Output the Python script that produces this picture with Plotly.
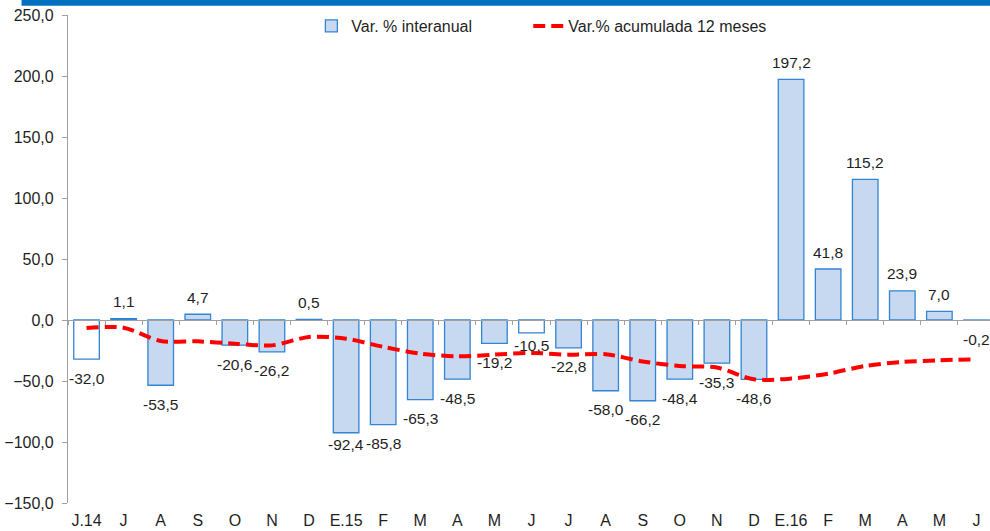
import plotly.graph_objects as go

# ---- data ----
labels = ["J.14", "J", "A", "S", "O", "N", "D",
          "E.15", "F", "M", "A", "M", "J", "J", "A", "S", "O", "N", "D",
          "E.16", "F", "M", "A", "M", "J"]
var_interanual = [-32.0, 1.1, -53.5, 4.7, -20.6, -26.2, 0.5,
                  -92.4, -85.8, -65.3, -48.5, -19.2, -10.5, -22.8, -58.0, -66.2, -48.4, -35.3, -48.6,
                  197.2, 41.8, 115.2, 23.9, 7.0, -0.2]
var_acumulada = [-6.5, -6.3, -17.2, -17.5, -19.4, -20.8, -13.9,
                 -15.3, -22.0, -27.6, -29.8, -28.4, -27.0, -28.4, -28.0, -34.0, -37.7, -39.0, -48.6,
                 -48.0, -44.0, -37.7, -34.4, -33.0, -32.2]
y_ticks = [-150, -100, -50, 0, 50, 100, 150, 200, 250]

# ---- styling ----
FONT = "Liberation Sans, Arial, sans-serif"
TXT = "#1f1f1f"
AXIS = "#A0A0A0"
BAR_FILL = "#C6D9F1"
BAR_LINE = "#3384D2"
hollow = {0, 12}  # bars drawn with white fill in the reference

idx = list(range(len(labels)))
bar_colors = ["#FFFFFF" if i in hollow else BAR_FILL for i in idx]

W, H = 990, 531
ML, MR, MT, MB = 67.5, 0, 15, 28
plot_w = W - ML - MR
plot_h = H - MT - MB
cat_px = 37.1
x_max = -0.5 + plot_w / cat_px

fig = go.Figure()
fig.add_trace(go.Bar(
    x=idx, y=var_interanual, name="Var. % interanual",
    marker=dict(color=bar_colors, line=dict(color=BAR_LINE, width=1.3)),
    width=0.69, showlegend=False, hoverinfo="skip",
))
# legend entry for the bars (uses the regular fill colour)
fig.add_trace(go.Bar(
    x=[None], y=[None], name="Var. % interanual",
    marker=dict(color=BAR_FILL, line=dict(color=BAR_LINE, width=1.3)),
    legend="legend", hoverinfo="skip",
))
fig.add_trace(go.Scatter(
    x=idx, y=var_acumulada, name="Var.% acumulada 12 meses",
    mode="lines", line=dict(color="#FF0000", width=4, dash="12px,6px", shape="spline", smoothing=0.8),
    legend="legend2", hoverinfo="skip",
))
# helper trace to render the zero-line axis with boundary ticks
fig.add_trace(go.Scatter(x=[None], y=[None], xaxis="x2", showlegend=False, hoverinfo="skip"))

label_shift = {7: -12, 12: -13}
for i, v in enumerate(var_interanual):
    txt = f"{v:.1f}".replace(".", ",")
    shift = label_shift.get(i, 17 if v >= 0 else -19)
    fig.add_annotation(x=i, y=v, text=txt, showarrow=False, yshift=shift,
                       font=dict(family=FONT, size=15.5, color=TXT))

# blue band at the very top
fig.add_shape(type="rect", xref="paper", yref="paper",
              x0=(21 - ML) / plot_w, x1=1.01,
              y0=1 + (MT - 5.7) / plot_h, y1=1 + MT / plot_h,
              fillcolor="#0070C0", line=dict(width=0), layer="above")

fig.update_layout(
    width=W, height=H,
    margin=dict(l=ML, r=MR, t=MT, b=MB, pad=0),
    paper_bgcolor="white", plot_bgcolor="white",
    separators=",.",
    font=dict(family=FONT, size=16, color=TXT),
    bargap=0.31,
    showlegend=True,
    legend=dict(orientation="h", x=(311 - ML) / plot_w, y=1 - (26 - MT) / plot_h,
                xanchor="left", yanchor="middle", bgcolor="rgba(0,0,0,0)",
                font=dict(family=FONT, size=16, color=TXT), itemwidth=30),
    legend2=dict(orientation="h", x=(528 - ML) / plot_w, y=1 - (26 - MT) / plot_h,
                 xanchor="left", yanchor="middle", bgcolor="rgba(0,0,0,0)",
                 font=dict(family=FONT, size=16, color=TXT), itemwidth=30),
    xaxis=dict(range=[-0.5, x_max], tickmode="array", tickvals=idx, ticktext=labels,
               showline=False, ticks="", showgrid=False, zeroline=False,
               ticklabelstandoff=6,
               tickfont=dict(family=FONT, size=16, color=TXT)),
    xaxis2=dict(overlaying="x", anchor="free", position=150 / 400, side="bottom",
                range=[-0.5, x_max], tickmode="linear", tick0=-0.5, dtick=1,
                showline=True, linecolor=AXIS, linewidth=1.2,
                ticks="outside", ticklen=4, tickcolor=AXIS, tickwidth=1,
                showticklabels=False, showgrid=False, zeroline=False),
    yaxis=dict(range=[-150, 250], tickmode="array", tickvals=y_ticks, tickformat=".1f",
               showline=True, linecolor=AXIS, linewidth=1.2,
               ticks="outside", ticklen=5, tickcolor=AXIS,
               ticklabelstandoff=5,
               showgrid=False, zeroline=False,
               tickfont=dict(family=FONT, size=16, color=TXT)),
)

fig.write_html("out.html", config={"displayModeBar": False},
               post_script="document.body.style.margin='0';document.body.style.overflow='hidden';")
